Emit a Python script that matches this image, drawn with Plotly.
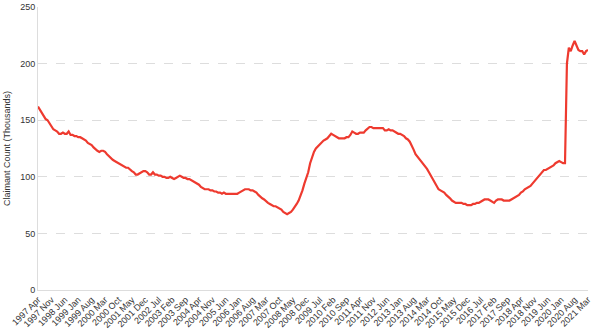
import plotly.graph_objects as go

months = ["Jan", "Feb", "Mar", "Apr", "May", "Jun", "Jul", "Aug", "Sep", "Oct", "Nov", "Dec"]

# Monthly claimant count (thousands), 1997 Apr .. 2021 Mar
values_1997 = [162, 159, 156, 153, 151, 150, 147, 144, 142]
values_1998 = [141, 140, 138, 138, 139, 138, 138, 140, 137, 137, 136, 136]
values_1999 = [135, 135, 134, 133, 132, 130, 129, 128, 126, 124, 123, 122]
values_2000 = [123, 123, 122, 120, 118, 117, 115, 114, 113, 112, 111, 110]
values_2001 = [109, 108, 108, 106, 105, 104, 102, 102, 103, 104, 105, 105]
values_2002 = [104, 102, 102, 104, 102, 102, 101, 101, 100, 100, 99, 99]
values_2003 = [100, 99, 98, 99, 100, 101, 100, 99, 99, 98, 98, 97]
values_2004 = [96, 95, 94, 93, 91, 90, 89, 89, 89, 88, 88, 87]
values_2005 = [87, 86, 86, 85, 86, 85, 85, 85, 85, 85, 85, 85]
values_2006 = [86, 87, 88, 89, 89, 89, 88, 88, 87, 86, 84, 82]
values_2007 = [81, 80, 78, 77, 76, 75, 74, 74, 73, 72, 71, 69]
values_2008 = [68, 67, 68, 69, 71, 73, 76, 79, 83, 88, 94, 99]
values_2009 = [104, 112, 118, 122, 125, 127, 129, 131, 132, 133, 134, 136]
values_2010 = [138, 137, 136, 135, 134, 134, 134, 134, 135, 135, 137, 140]
values_2011 = [139, 138, 138, 139, 139, 139, 141, 143, 144, 144, 143, 143]
values_2012 = [143, 143, 143, 143, 141, 141, 142, 141, 141, 140, 139, 138]
values_2013 = [138, 137, 136, 134, 133, 131, 128, 124, 120, 118, 116, 114]
values_2014 = [112, 109, 107, 104, 101, 98, 94, 91, 89, 88, 87, 86]
values_2015 = [84, 82, 81, 79, 78, 77, 77, 77, 77, 76, 76, 75]
values_2016 = [75, 75, 76, 76, 77, 77, 78, 79, 80, 80, 80, 79]
values_2017 = [78, 77, 79, 80, 80, 80, 79, 79, 79, 79, 80, 81]
values_2018 = [82, 83, 84, 86, 87, 89, 90, 91, 92, 94, 96, 99]
values_2019 = [101, 103, 105, 106, 106, 107, 108, 109, 110, 112, 113, 114]
values_2020 = [113, 112, 112, 200, 214, 211, 216, 220, 216, 212, 211, 211]
values_2021 = [208, 211, 212]

values = (values_1997 + values_1998 + values_1999 + values_2000 + values_2001 +
          values_2002 + values_2003 + values_2004 + values_2005 + values_2006 +
          values_2007 + values_2008 + values_2009 + values_2010 + values_2011 +
          values_2012 + values_2013 + values_2014 + values_2015 + values_2016 +
          values_2017 + values_2018 + values_2019 + values_2020 + values_2021)

labels = []
y, m = 1997, 3
for _ in range(len(values)):
    labels.append(f"{y} {months[m]}")
    m += 1
    if m == 12:
        m = 0
        y += 1

tick_labels = labels[::7]

fig = go.Figure()
fig.add_trace(go.Scatter(
    x=labels, y=values, mode="lines",
    line=dict(color="#ee3a2f", width=2.2),
    hoverinfo="x+y", showlegend=False,
))

fig.update_layout(
    width=600, height=332,
    margin=dict(l=38, r=12, t=7, b=42),
    paper_bgcolor="white", plot_bgcolor="white",
    font=dict(family="Liberation Sans, Arial, sans-serif", color="#333333"),
    xaxis=dict(
        type="category", automargin=False,
        range=[0, len(values) - 1],
        tickmode="array", tickvals=tick_labels, ticktext=tick_labels,
        tickangle=-45, tickfont=dict(size=9, color="#333333"),
        showgrid=False, showline=True, linecolor="#dddddd", linewidth=1,
        ticks="", zeroline=False,
    ),
    yaxis=dict(
        automargin=False,
        range=[0, 250], tickvals=[0, 50, 100, 150, 200, 250],
        tickfont=dict(size=9, color="#333333"),
        showgrid=True, gridcolor="#dddddd", griddash="dash", gridwidth=1,
        showline=True, linecolor="#dddddd", linewidth=1,
        zeroline=False, ticks="",
        title=dict(text="Claimant Count (Thousands)", font=dict(size=9, color="#333333"), standoff=8),
    ),
)

fig.write_html("out.html", config={"displayModeBar": False})

# remove the default page margin so the 600x332 figure fills the window
with open("out.html", "r", encoding="utf-8") as f:
    html = f.read()
html = html.replace("<head>", "<head><style>html,body{margin:0;padding:0;overflow:hidden;}</style>", 1)
with open("out.html", "w", encoding="utf-8") as f:
    f.write(html)
